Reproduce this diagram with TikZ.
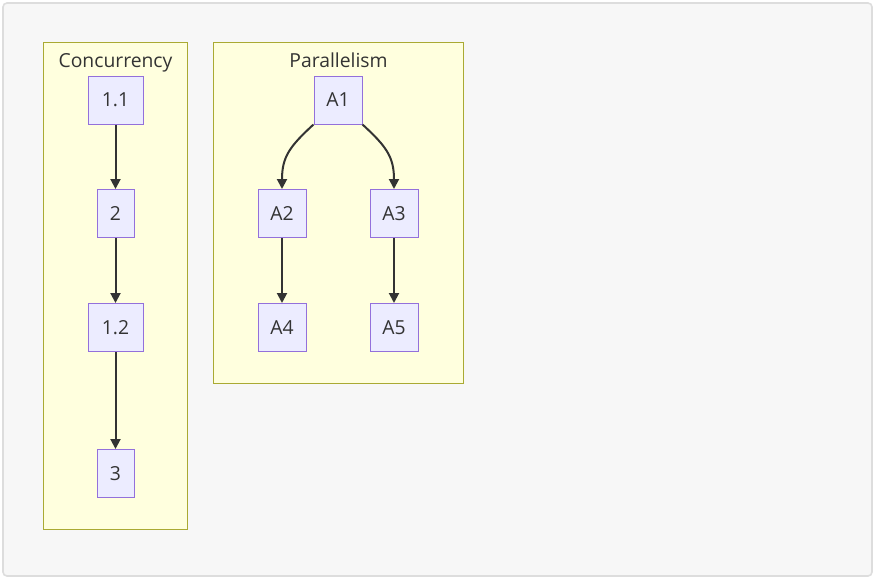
\documentclass[tikz,border=0pt]{standalone}
\usepackage{fontspec}
\setmainfont{Open Sans}
\usepackage{tikz}
\usetikzlibrary{arrows.meta, positioning}

\definecolor{bgfill}{RGB}{247,247,247}
\definecolor{bgline}{RGB}{221,221,221}
\definecolor{clusterfill}{RGB}{255,255,222}
\definecolor{clusterline}{RGB}{170,170,51}
\definecolor{taskfill}{RGB}{236,236,255}
\definecolor{taskline}{RGB}{147,112,219}
\definecolor{flowline}{RGB}{51,51,51}

\tikzset{
  cluster/.style={draw=clusterline, fill=clusterfill, line width=0.75pt},
  clustertitle/.style={inner sep=0pt, anchor=base, font=\fontsize{14.5}{17}\selectfont, text=flowline},
  task/.style={draw=taskline, fill=taskfill, line width=0.75pt, inner sep=0pt, minimum width=36pt, minimum height=36pt, font=\fontsize{14.5}{17}\selectfont, text=flowline},
  widetask/.style={task, minimum width=41.25pt},
  narrowtask/.style={task, minimum width=27.75pt},
  flow/.style={draw=flowline, line width=1.5pt, -{Triangle[length=7.5pt,width=7.5pt]}},
}

\begin{document}
\begin{tikzpicture}[x=0.75pt,y=0.75pt,yscale=-1,xscale=1]
\useasboundingbox (0,0) rectangle (875,579);

%Background
\draw [draw=bgline, fill=bgfill, line width=1.2pt, rounded corners=3pt] (3,3) rectangle (872,576);

%Cluster: Concurrency
\draw [cluster] (43.5,42.5) rectangle (187.5,529.5);
%Cluster: Parallelism
\draw [cluster] (213.5,42.5) rectangle (463.5,383.5);

% Text Node
\node [clustertitle] (concTitle) at (115.5,67) {Concurrency};
% Text Node
\node [clustertitle] (paraTitle) at (338.5,67) {Parallelism};

%Tasks
\node [widetask] (c11) at (115.5,100) {1.1};
\node [narrowtask] (c2) at (115.5,213.5) {2};
\node [widetask] (c12) at (115.5,327.5) {1.2};
\node [narrowtask] (c3) at (115.5,473.5) {3};

\node [task] (a1) at (338,100) {A1};
\node [task] (a2) at (282,213.5) {A2};
\node [task] (a3) at (394,213.5) {A3};
\node [task] (a4) at (282,327.5) {A4};
\node [task] (a5) at (394,327.5) {A5};

%Straight Lines
\draw [flow] (c11) -- (c2);
\draw [flow] (c2) -- (c12);
\draw [flow] (c12) -- (c3);
\draw [flow] (a2) -- (a4);
\draw [flow] (a3) -- (a5);

%Curve Lines
\draw [flow] (a1.south west) .. controls +(-24,22) and +(0,-32) .. (a2.north);
\draw [flow] (a1.south east) .. controls +(24,22) and +(0,-32) .. (a3.north);

\end{tikzpicture}
\end{document}
